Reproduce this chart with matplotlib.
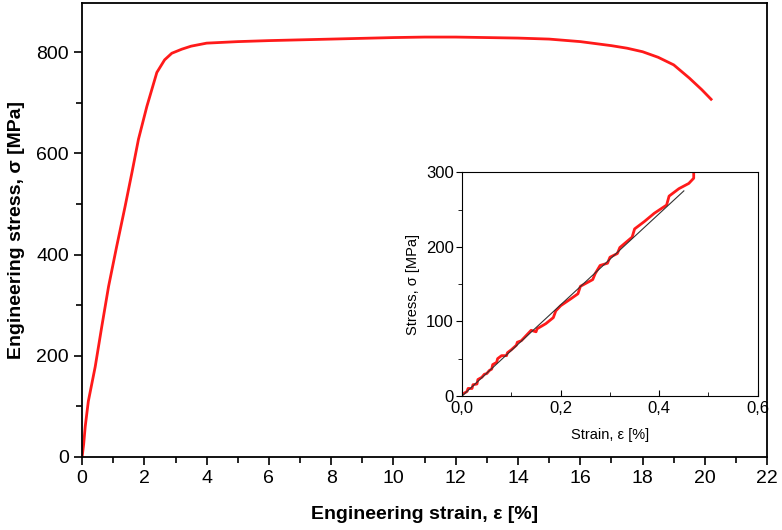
import numpy as np
import matplotlib.pyplot as plt
from matplotlib.ticker import MultipleLocator, FixedFormatter, FixedLocator

# main tensile curve (strain %, stress MPa)
strain = [0, 0.05, 0.1, 0.2, 0.42, 0.63, 0.85, 1.11, 1.38, 1.6, 1.81, 2.08,
          2.4, 2.65, 2.88, 3.2, 3.5, 4.0, 5, 6, 8, 10, 11, 12, 13, 14, 15,
          16, 17, 17.5, 18, 18.5, 19, 19.5, 19.9, 20.2]
stress = [0, 25, 60, 110, 178, 257, 337, 416, 495, 562, 628, 693,
          760, 785, 798, 806, 812, 818, 821, 823, 826, 829, 830, 830, 829,
          828, 826, 821, 813, 808, 801, 790, 775, 749, 726, 707]

# inset: initial part (wobbly red) and linear fit (black)
in_strain = [0, 0.01, 0.012, 0.02, 0.022, 0.03, 0.032, 0.04, 0.045, 0.05, 0.055,
             0.06, 0.062, 0.07, 0.072, 0.08, 0.09, 0.092, 0.1, 0.11, 0.112,
             0.12, 0.14, 0.15, 0.152, 0.17, 0.185, 0.19, 0.2, 0.22, 0.235, 0.24,
             0.265, 0.27, 0.28, 0.295, 0.3, 0.315, 0.32, 0.345, 0.35, 0.37,
             0.39, 0.415, 0.42, 0.44, 0.46, 0.47, 0.47]
in_stress = [2, 6, 10, 10, 15, 16, 22, 25, 29, 30, 34, 36, 42, 45, 50, 54, 54,
             58, 62, 68, 72, 74, 88, 86, 90, 97, 105, 114, 121, 130, 137, 147,
             156, 164, 175, 178, 186, 191, 199, 213, 224, 234, 245, 256, 268,
             278, 285, 292, 300]
fit_strain = [0, 0.45]
fit_stress = [0, 275]

plt.rcParams['font.family'] = ['Liberation Sans', 'DejaVu Sans']

fig = plt.figure(figsize=(7.82, 5.3), dpi=100)
ax = fig.add_axes([0.105, 0.138, 0.876, 0.856])
ax.plot(strain, stress, color='#ff1a1a', lw=2)
ax.set_xlim(0, 22)
ax.set_ylim(0, 897)
ax.xaxis.set_major_locator(MultipleLocator(2))
ax.xaxis.set_minor_locator(MultipleLocator(1))
ax.yaxis.set_major_locator(MultipleLocator(200))
ax.yaxis.set_minor_locator(MultipleLocator(100))
ax.tick_params(which='both', direction='out', labelsize=14, width=1.2)
ax.tick_params(which='major', length=6)
ax.tick_params(which='minor', length=4)
for s in ax.spines.values():
    s.set_linewidth(1.3)
ax.set_xlabel('Engineering strain, ε [%]', fontsize=14, fontweight='bold', labelpad=14)
ax.set_ylabel('Engineering stress, σ [MPa]', fontsize=14, fontweight='bold', labelpad=8)

# inset
ins = fig.add_axes([0.591, 0.253, 0.378, 0.422])
ins.plot(in_strain, in_stress, color='#ff1a1a', lw=2)
ins.plot(fit_strain, fit_stress, color='#333333', lw=0.8)
ins.set_xlim(0, 0.6)
ins.set_ylim(0, 300)
ins.xaxis.set_major_locator(FixedLocator([0, 0.2, 0.4, 0.6]))
ins.xaxis.set_major_formatter(FixedFormatter(['0,0', '0,2', '0,4', '0,6']))
ins.xaxis.set_minor_locator(MultipleLocator(0.1))
ins.yaxis.set_major_locator(MultipleLocator(100))
ins.yaxis.set_minor_locator(MultipleLocator(50))
ins.tick_params(axis='x', which='both', direction='in', pad=4)
ins.tick_params(axis='y', which='both', direction='out', pad=2)
ins.tick_params(which='both', labelsize=12)
ins.tick_params(which='major', length=4)
ins.tick_params(which='minor', length=3)
ins.set_xlabel('Strain, ε [%]', fontsize=10.5, labelpad=8)
ins.set_ylabel('Stress, σ [MPa]', fontsize=10.5, labelpad=4)

fig.savefig('out.png', dpi=100)
